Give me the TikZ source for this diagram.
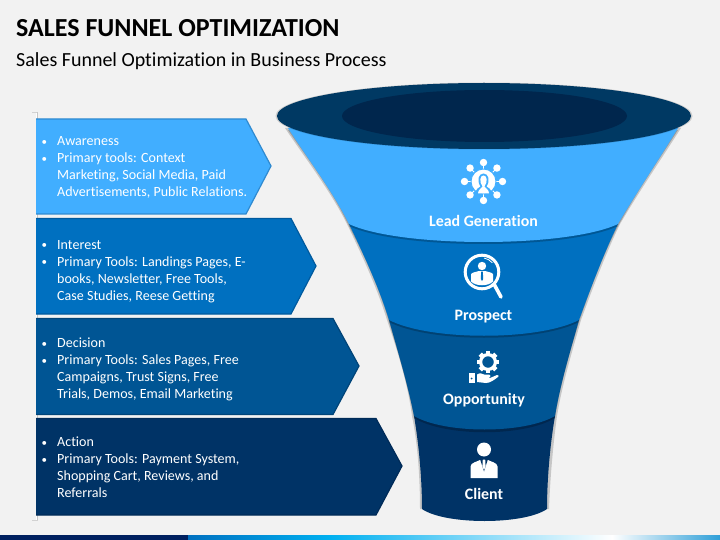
\documentclass[tikz,border=0pt]{standalone}
\usepackage{fontspec}
\setmainfont[Ligatures=NoCommon]{Carlito}
\definecolor{bgc}{HTML}{F2F2F2}
\definecolor{cA}{HTML}{41AEFF}
\definecolor{cB}{HTML}{0070C0}
\definecolor{cC}{HTML}{005594}
\definecolor{cD}{HTML}{003366}
\definecolor{lA}{HTML}{2F8AD0}
\definecolor{lB}{HTML}{005A9E}
\definecolor{lC}{HTML}{004478}
\definecolor{lD}{HTML}{002B58}
\definecolor{rim}{HTML}{003963}
\definecolor{hole}{HTML}{00264D}
\definecolor{navy}{HTML}{002060}
\definecolor{fa}{HTML}{00B0F0}
\definecolor{fb}{HTML}{2E9FD8}
\newcommand{\bul}{\llap{\raisebox{.6pt}{\fontsize{11}{11}\selectfont\textbullet}\hspace{10pt}}}
\tikzset{
  x=1pt,y=-1pt,
  chev/.style={line width=1.2pt,line join=miter},
  tx/.style={anchor=north west,inner sep=0pt,align=left,text=white,font=\fontsize{14.05}{17}\selectfont},
  flabel/.style={anchor=base,text=white,inner sep=0pt,font=\bfseries\fontsize{15.9}{18}\selectfont},
  shade1/.style={fill=black,fill opacity=.22},
  ico/.style={fill=white,draw=none}
}
\begin{document}
\begin{tikzpicture}
\useasboundingbox (0,0) rectangle (720,540);
\fill[bgc] (0,0) rectangle (720,540);
% footer
\fill[navy] (0,535) rectangle (188,540);
\shade[left color=cB,right color=fa] (188,535) rectangle (330,540);
\shade[left color=fa,right color=white] (330,535) rectangle (612,540);
\shade[left color=white,right color=fb] (612,535) rectangle (720,540);
% titles
\node[anchor=base west,inner sep=0pt,font=\bfseries\fontsize{26}{28}\selectfont] (title) at (16,37) {SALES FUNNEL OPTIMIZATION};
\node[anchor=base west,inner sep=0pt,font=\fontsize{20}{22}\selectfont] (sub) at (16,67) {Sales Funnel Optimization in Business Process};
% side rule
\fill[gray!35] (32,112) rectangle (38,113.2);
\fill[gray!45] (36.5,112) rectangle (38.2,521);
\fill[gray!35] (32,520) rectangle (38,521);
\fill[white] (35.5,113) rectangle (36.5,520);
% chevrons
\draw[chev,fill=cA,draw=lA] (36,119) -- (246,119) -- (271,166) -- (246,214) -- (36,214);
\draw[chev,fill=cB,draw=lB] (36,218.5) -- (291,218.5) -- (316,266) -- (291,314) -- (36,314);
\draw[chev,fill=cC,draw=lC] (36,318.5) -- (333,318.5) -- (359,366) -- (333,414.5) -- (36,414.5);
\draw[chev,fill=cD,draw=lD] (36,418.5) -- (376,418.5) -- (402,466) -- (376,515) -- (36,515);
\node[tx] (t1) at (57,136.5) {\bul Awareness\\\bul Primary tools: Context\\Marketing, Social Media, Paid\\Advertisements, Public Relations.};
\node[tx] (t2) at (57,240) {\bul Interest\\\bul Primary Tools: Landings Pages, E-\\books, Newsletter, Free Tools,\\Case Studies, Reese Getting};
\node[tx] (t3) at (57,338) {\bul Decision\\\bul Primary Tools: Sales Pages, Free\\Campaigns, Trust Signs, Free\\Trials, Demos, Email Marketing};
\node[tx] (t4) at (57,437) {\bul Action\\\bul Primary Tools: Payment System,\\Shopping Cart, Reviews, and\\Referrals};
% funnel silhouette shadow
\fill[black,opacity=.18] (285,128) .. controls (305,158) and (330,190) .. (347,224) .. controls (362,255) and (378,290) .. (387,320) .. controls (398,352) and (408,385) .. (412,416) .. controls (418,445) and (420,480) .. (420,509) -- (549,509) .. controls (550,480) and (553,445) .. (557,416) .. controls (562,385) and (572,352) .. (581,320) .. controls (592,290) and (605,255) .. (620,224) .. controls (640,190) and (662,158) .. (681,128) -- cycle;
% band 4
\fill[cD] (414,416) .. controls (419,445) and (422,480) .. (422,509) .. controls (445,525) and (524,525) .. (547,509) .. controls (547,480) and (550,445) .. (555,416) -- cycle;
% band 3
\fill[shade1] (389,322) .. controls (398,352) and (408,385) .. (414,418) .. controls (445,437) and (524,437) .. (555,418) .. controls (560,385) and (570,352) .. (579,322) -- cycle;
\fill[cC] (389,320) .. controls (398,352) and (408,385) .. (414,416) .. controls (445,434) and (524,434) .. (555,416) .. controls (560,385) and (570,352) .. (579,320) -- cycle;
% band 2
\fill[shade1] (349,226) .. controls (364,255) and (380,290) .. (389,322) .. controls (430,343) and (538,343) .. (579,322) .. controls (590,290) and (603,255) .. (618,226) -- cycle;
\fill[cB] (349,224) .. controls (364,255) and (380,290) .. (389,320) .. controls (430,341) and (538,341) .. (579,320) .. controls (590,290) and (603,255) .. (618,224) -- cycle;
% band 1
\fill[shade1] (288,130) .. controls (307,158) and (332,190) .. (349,226) .. controls (400,250) and (567,250) .. (618,226) .. controls (638,190) and (660,158) .. (678,130) -- cycle;
\fill[cA] (288,128) .. controls (307,158) and (332,190) .. (349,224) .. controls (400,248) and (567,248) .. (618,224) .. controls (638,190) and (660,158) .. (678,128) -- cycle;
% rim
\fill[black,opacity=.15] (484,116) ellipse [x radius=208.5,y radius=33.5];
\fill[rim] (484,116) ellipse [x radius=207,y radius=33];
\fill[hole] (484.5,116) ellipse [x radius=142.5,y radius=26];
% labels
\node[flabel] (l1) at (483.5,226) {Lead Generation};
\node[flabel] (l2) at (483.5,320) {Prospect};
\node[flabel] (l3) at (484,404) {Opportunity};
\node[flabel] (l4) at (484,499) {Client};
% icon: network person
\begin{scope}[shift={(483.5,181.5)}]
 \foreach \a in {0,45,...,315}{
   \draw[white,line width=.9pt] (0,0) -- (\a:19);
   \fill[ico] (\a:19) circle[radius=3.7];
 }
 \draw[cA,line width=.9pt,fill=white] (0,0) circle[radius=12.5];
 \fill[cA] (-8,12) .. controls (-8,7) and (-4,6) .. (-3,5) .. controls (-7,-1) and (-5,-8) .. (0,-8) .. controls (5,-8) and (7,-1) .. (3,5) .. controls (4,6) and (8,7) .. (8,12) -- cycle;
 \fill[white] (-5.5,12) .. controls (-5.5,8) and (-2,7) .. (-1,5) .. controls (-4.5,0) and (-3.5,-6) .. (0,-6) .. controls (3.5,-6) and (4.5,0) .. (1,5) .. controls (2,7) and (5.5,8) .. (5.5,12) -- cycle;
\end{scope}
% icon: magnifier
\begin{scope}[shift={(482,272)}]
 \draw[white,line width=3pt] (0,0) circle[radius=16.8];
 \draw[white,line width=3.6pt,line cap=round] (12.5,13) -- (19,25);
 \fill[ico] (0,-6) circle[radius=4.2];
 \fill[ico] (-11,9.5) -- (-11,2.5) .. controls (-11,0.5) and (-6,0) .. (-3,-1) -- (3,-1) .. controls (6,0) and (11,0.5) .. (11,2.5) -- (11,9.5) .. controls (6,14.5) and (-6,14.5) .. (-11,9.5) -- cycle;
 \fill[cB] (-0.8,-0.5) -- (0.8,-0.5) -- (1.2,7) -- (0,9) -- (-1.2,7) -- cycle;
 \draw[white,line width=.8pt] (2,-14) arc[start angle=-80,end angle=-40,radius=14];
\end{scope}
% icon: gear and hand
\begin{scope}[shift={(488,362)}]
 \foreach \a in {0,45,...,315}{
   \fill[ico,rotate=\a] (-2.3,-11) rectangle (2.3,-7);
 }
 \fill[ico,even odd rule] (0,0) circle[radius=9] (0,0) circle[radius=5.8];
\end{scope}
\begin{scope}[shift={(469,372)}]
 \fill[ico] (0,1) rectangle (6,11);
 \fill[cC] (2.5,6.5) circle[radius=1];
 \fill[ico] (8,2.5) .. controls (11,0.5) and (13,1.5) .. (15,2.5) -- (20,2.5) .. controls (22,3) and (22,5) .. (20,5.5) -- (15,5.5) -- (21,6) -- (28,3) .. controls (30,3) and (30,4.5) .. (29,5) .. controls (25,8) and (21,11) .. (17,11) -- (8,10) -- cycle;
\end{scope}
% icon: client
\begin{scope}[shift={(484,449.5)}]
 \fill[ico] (0,0) circle[radius=7];
 \fill[ico] (-13.5,28.5) -- (-13.5,17) .. controls (-13.5,13) and (-6,12) .. (-3,10) -- (0,10) -- (3,10) .. controls (6,12) and (13.5,13) .. (13.5,17) -- (13.5,28.5) -- cycle;
 \fill[cD] (-4,9.5) -- (0,22) -- (4,9.5) -- cycle;
 \fill[ico] (-1.2,10) -- (1.2,10) -- (1.6,17) -- (0,20.5) -- (-1.6,17) -- cycle;
\end{scope}
\end{tikzpicture}
\end{document}
